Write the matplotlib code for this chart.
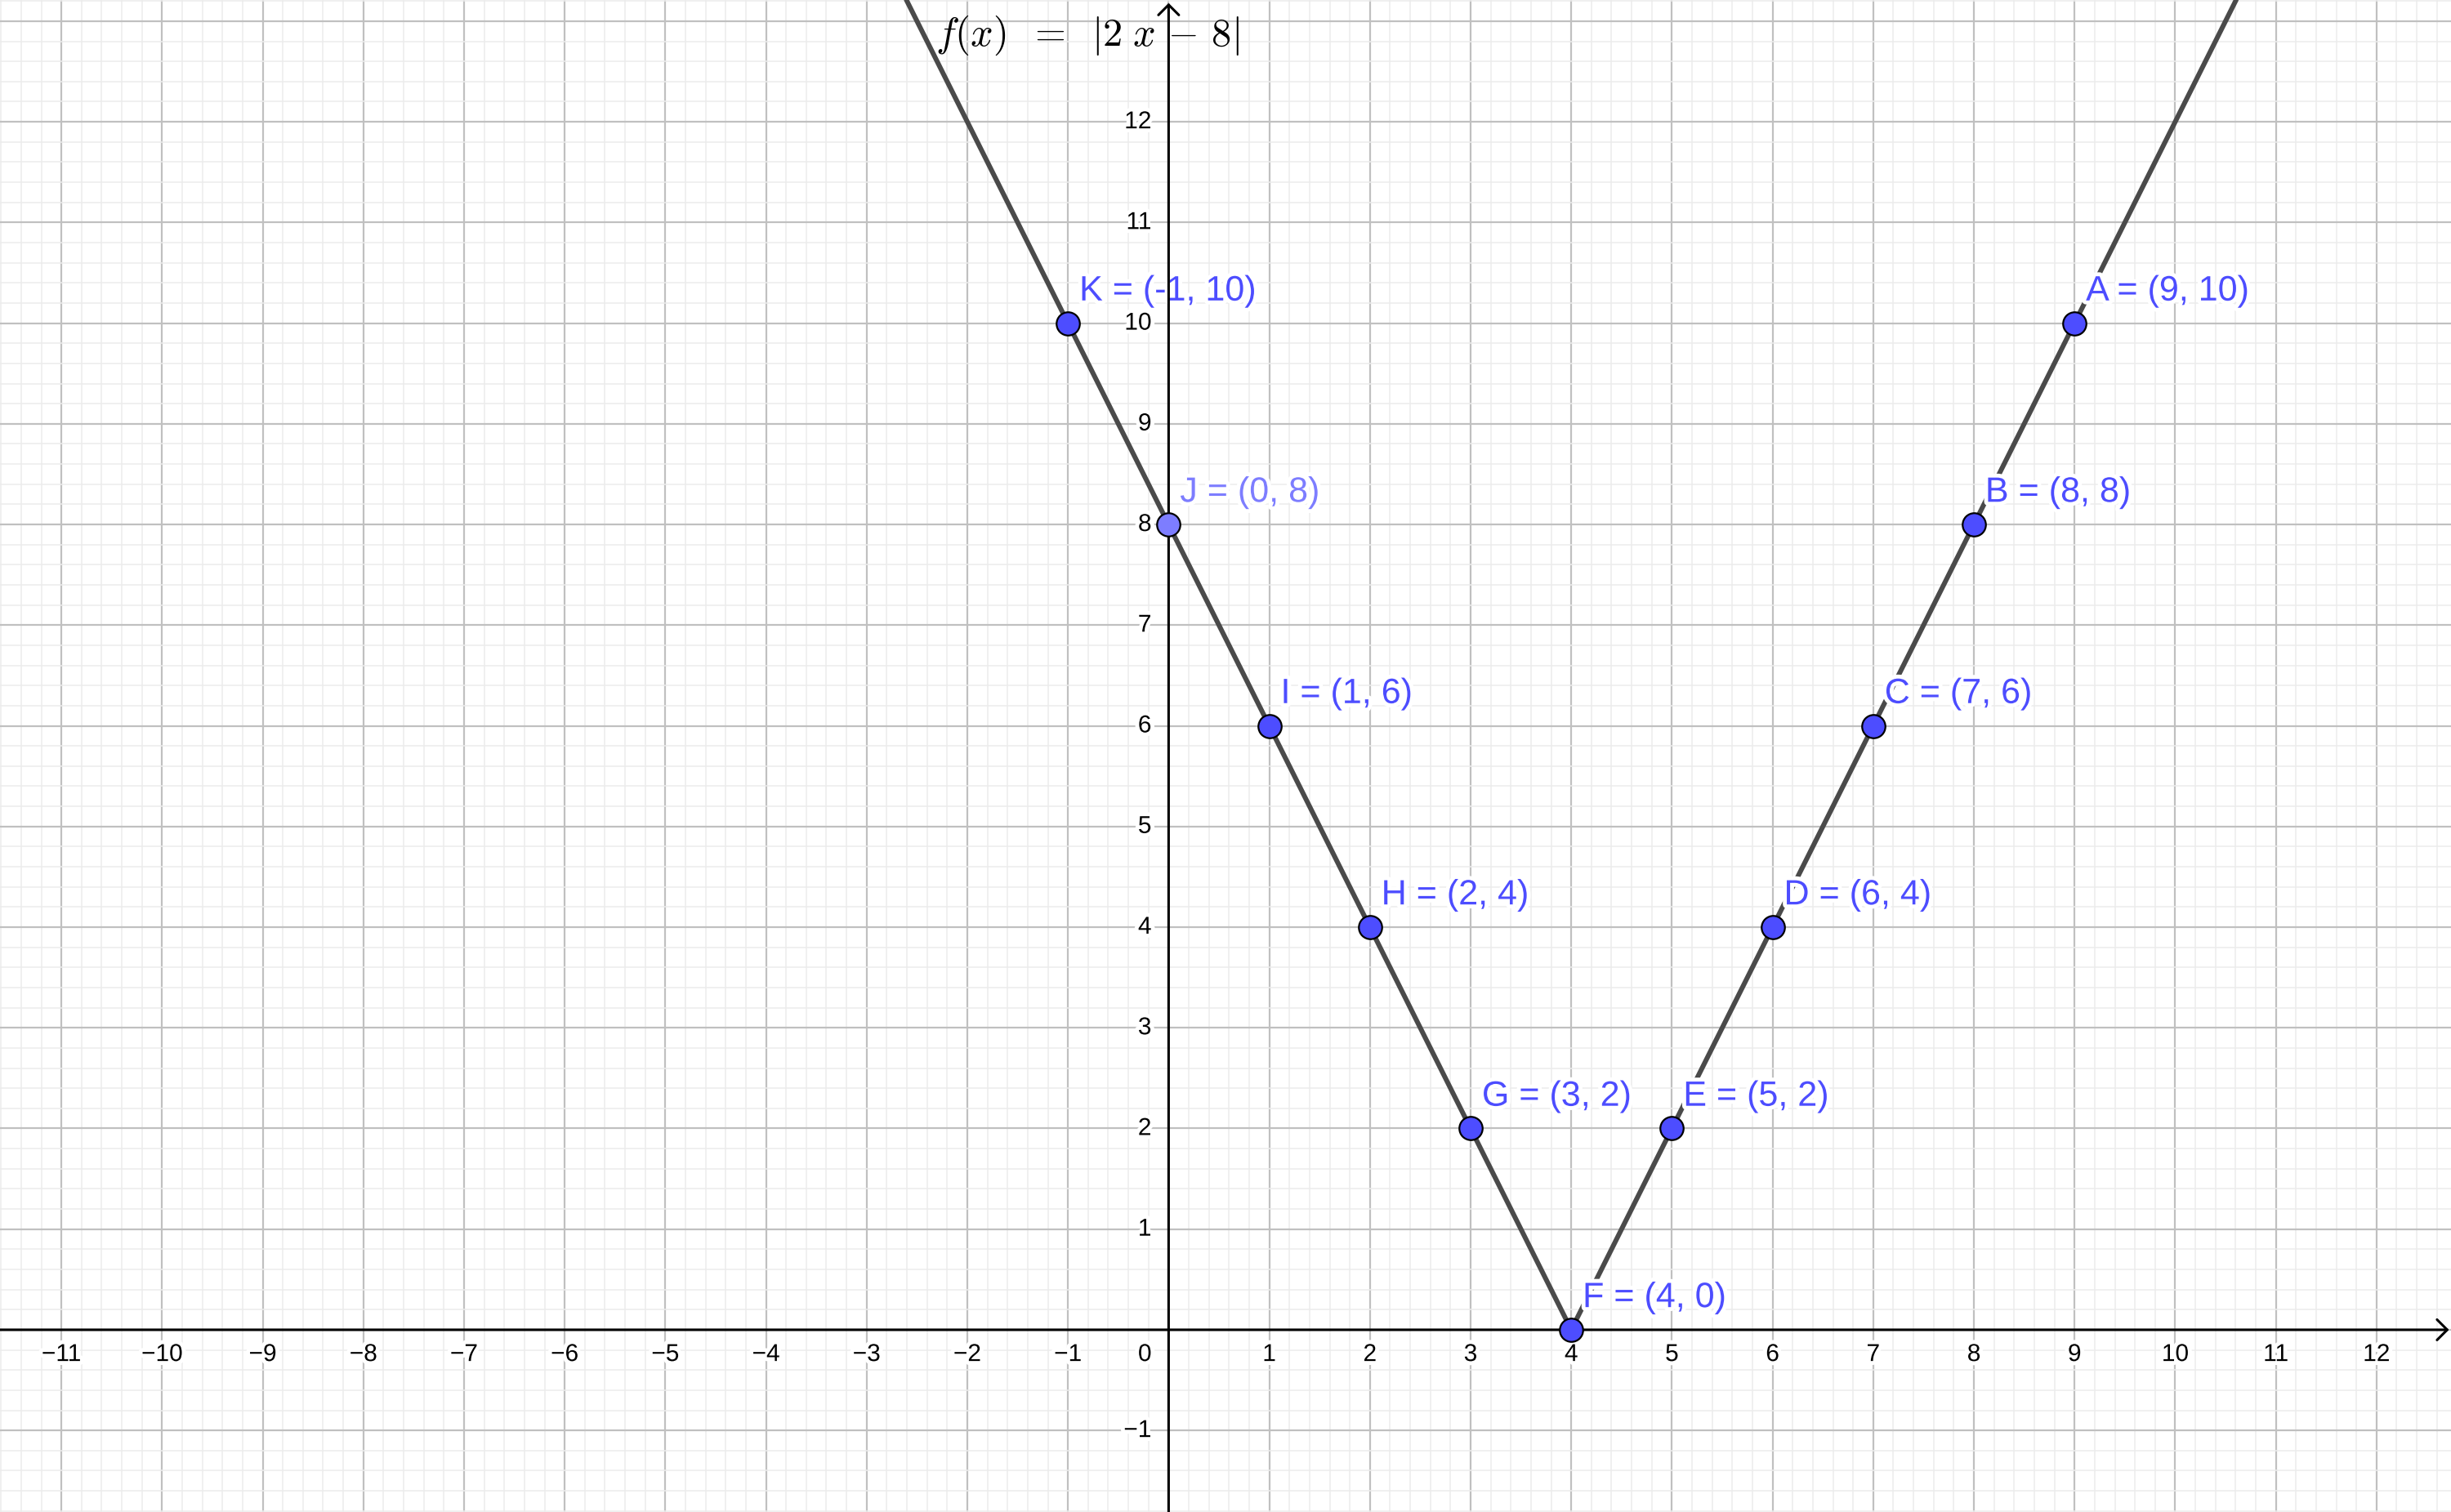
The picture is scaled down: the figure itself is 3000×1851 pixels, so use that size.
import matplotlib
matplotlib.use('Agg')
import matplotlib.pyplot as plt
import matplotlib.patheffects as pe
import numpy as np

# точки на графике f(x) = |2x - 8|
point_names = ['A', 'B', 'C', 'D', 'E', 'F', 'G', 'H', 'I', 'J', 'K']
point_x = [9, 8, 7, 6, 5, 4, 3, 2, 1, 0, -1]
point_y = [10, 8, 6, 4, 2, 0, 2, 4, 6, 8, 10]

# ломаная графика (концы за пределами окна)
curve_x = [-3, 4, 11]
curve_y = [14, 0, 14]

x_ticks = [t for t in range(-11, 13) if t != 0]
y_ticks = [t for t in range(-1, 13) if t != 0]

xmin, xmax = -11.61, 12.74
ymin, ymax = -1.81, 13.21

blue = '#4d4dff'
light_blue = '#7d7dff'
halo = [pe.withStroke(linewidth=7, foreground='white')]

fig = plt.figure(figsize=(30, 18.51), dpi=100)
ax = fig.add_axes([0, 0, 1, 1])

# сетка
ax.set_xticks(np.arange(-12, 14, 1))
ax.set_yticks(np.arange(-2, 15, 1))
ax.set_xticks(np.arange(-12, 14, 0.2), minor=True)
ax.set_yticks(np.arange(-2, 15, 0.2), minor=True)
ax.grid(True, which='minor', color='#ececec', linewidth=1.1, zorder=0)
ax.grid(True, which='major', color='#c0c0c0', linewidth=1.6, zorder=0)
ax.set_axisbelow(True)
ax.tick_params(which='both', length=0, labelbottom=False, labelleft=False)
for s in ax.spines.values():
    s.set_visible(False)

# подписи делений
tick_font = dict(family='Liberation Sans', fontsize=21.5, color='black')
for t in x_ticks:
    lab = str(t).replace('-', '\u2212')
    ax.text(t, -0.245, lab, ha='center', va='center', zorder=1,
            path_effects=halo, **tick_font)
for t in y_ticks:
    lab = str(t).replace('-', '\u2212')
    ax.text(-0.17, t, lab, ha='right', va='center', zorder=1,
            path_effects=halo, **tick_font)
ax.text(-0.17, -0.245, '0', ha='right', va='center', zorder=1,
        path_effects=halo, **tick_font)

# оси со стрелками
ax.annotate('', xy=(12.72, 0), xytext=(xmin - 0.1, 0),
            arrowprops=dict(arrowstyle='->,head_length=0.45,head_width=0.45',
                            lw=2.2, color='black', mutation_scale=20,
                            shrinkA=0, shrinkB=0), zorder=6)
ax.annotate('', xy=(0, 13.18), xytext=(0, ymin - 0.1),
            arrowprops=dict(arrowstyle='->,head_length=0.45,head_width=0.45',
                            lw=2.2, color='black', mutation_scale=20,
                            shrinkA=0, shrinkB=0), zorder=6)

# график
ax.plot(curve_x, curve_y, color='#4a4a4a', linewidth=4.3, zorder=3,
        solid_capstyle='butt')

# точки и подписи
for name, px, py in zip(point_names, point_x, point_y):
    c = light_blue if name == 'J' else blue
    ax.plot(px, py, 'o', markersize=20.5, markerfacecolor=c,
            markeredgecolor='black', markeredgewidth=1.6, zorder=7)
    ax.annotate(f'{name} = ({px}, {py})', xy=(px, py), xytext=(10, 20),
                textcoords='offset points', ha='left', va='baseline',
                family='Liberation Sans', fontsize=31, color=c, zorder=5,
                path_effects=halo)

# формула
plt.rcParams['mathtext.fontset'] = 'cm'
ax.text(-2.32, 12.76, r'$f(x)\;\;=\;\;|2\;x\,-\,8|$', fontsize=35,
        ha='left', va='baseline', color='black', zorder=5)

ax.set_xlim(xmin, xmax)
ax.set_ylim(ymin, ymax)

fig.savefig('out.png', dpi=100)
